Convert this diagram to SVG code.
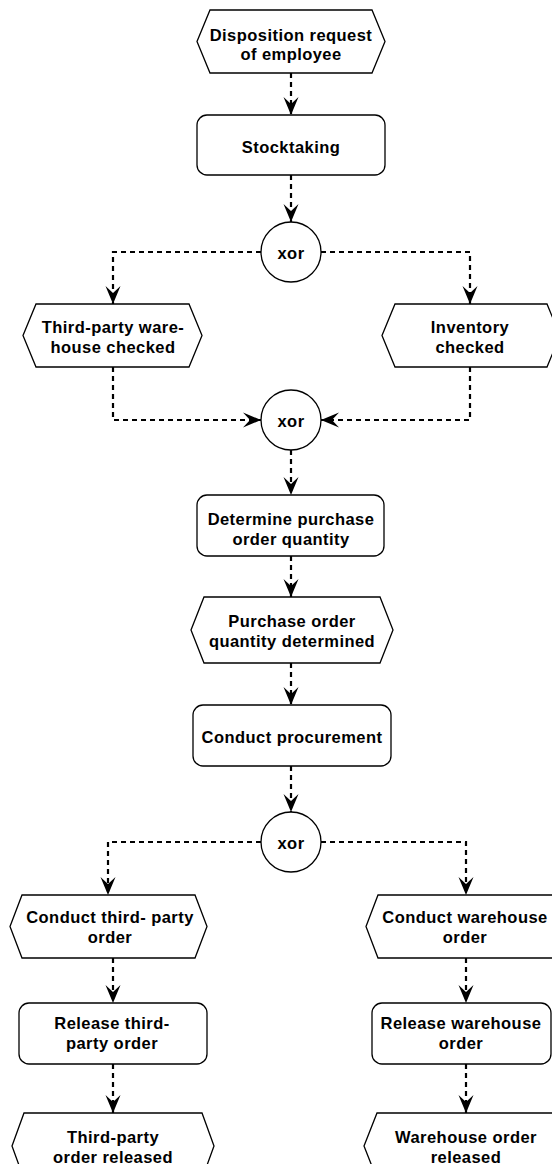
<svg xmlns="http://www.w3.org/2000/svg" width="552" height="1164" viewBox="0 0 552 1164">
<style>
.shape{fill:#fff;stroke:#000;stroke-width:1.3}
.lbl{font-family:"Liberation Sans",Arial,Helvetica,sans-serif;font-weight:bold;font-size:16.5px;letter-spacing:0.45px;text-anchor:middle;fill:#000}
.conn{fill:none;stroke:#000;stroke-width:2.2;stroke-dasharray:5 4;marker-end:url(#arr)}
</style>
<defs>
<marker id="arr" viewBox="0 0 20 16" refX="18" refY="8" markerWidth="20" markerHeight="16" orient="auto" markerUnits="userSpaceOnUse">
<path d="M0,0.5 L18,8 L0,15.5 L7,8 Z" fill="#000"/>
</marker>
</defs>
<rect width="552" height="1164" fill="#fff"/>
<g id="connectors">
<path class="conn" d="M291,73 V115"/>
<path class="conn" d="M291,175 V222"/>
<path class="conn" d="M261,252 H113 V304"/>
<path class="conn" d="M321,252 H470 V304"/>
<path class="conn" d="M113,367 V420 H261"/>
<path class="conn" d="M470,367 V420 H321"/>
<path class="conn" d="M291,450 V495"/>
<path class="conn" d="M291,556 V597"/>
<path class="conn" d="M291,663 V705"/>
<path class="conn" d="M291,766 V812"/>
<path class="conn" d="M261,842 H108 V895"/>
<path class="conn" d="M321,842 H466 V895"/>
<path class="conn" d="M113,958 V1003"/>
<path class="conn" d="M113,1064 V1113"/>
<path class="conn" d="M466,958 V1003"/>
<path class="conn" d="M466,1064 V1113"/>
</g>
<g id="n1">
<polygon class="shape" points="210,10 372,10 385,41.5 372,73 210,73 197,41.5"/>
<text class="lbl" x="291" y="41">Disposition request</text>
<text class="lbl" x="291" y="60">of employee</text>
</g>
<g id="n2">
<rect class="shape" x="197" y="115" width="188" height="60" rx="10"/>
<text class="lbl" x="291" y="153">Stocktaking</text>
</g>
<g id="x1">
<circle class="shape" cx="291" cy="252" r="30"/>
<text class="lbl" x="291" y="259">xor</text>
</g>
<g id="n3">
<polygon class="shape" points="36,304 189,304 202,335.5 189,367 36,367 23,335.5"/>
<text class="lbl" x="113" y="333">Third-party ware-</text>
<text class="lbl" x="113" y="353">house checked</text>
</g>
<g id="n4">
<polygon class="shape" points="395,304 547,304 560,335.5 547,367 395,367 382,335.5"/>
<text class="lbl" x="470" y="333">Inventory</text>
<text class="lbl" x="470" y="353">checked</text>
</g>
<g id="x2">
<circle class="shape" cx="291" cy="420" r="30"/>
<text class="lbl" x="291" y="427">xor</text>
</g>
<g id="n5">
<rect class="shape" x="197" y="495" width="187" height="61" rx="10"/>
<text class="lbl" x="291" y="525">Determine purchase</text>
<text class="lbl" x="291" y="545">order quantity</text>
</g>
<g id="n6">
<polygon class="shape" points="204,597 380,597 393,630 380,663 204,663 191,630"/>
<text class="lbl" x="292" y="627">Purchase order</text>
<text class="lbl" x="292" y="647">quantity determined</text>
</g>
<g id="n7">
<rect class="shape" x="193" y="705" width="198" height="61" rx="10"/>
<text class="lbl" x="292" y="743">Conduct procurement</text>
</g>
<g id="x3">
<circle class="shape" cx="291" cy="842" r="30"/>
<text class="lbl" x="291" y="849">xor</text>
</g>
<g id="n8">
<polygon class="shape" points="22,895 195,895 207,926.5 195,958 22,958 10,926.5"/>
<text class="lbl" x="110" y="923">Conduct third- party</text>
<text class="lbl" x="110" y="943">order</text>
</g>
<g id="n9">
<polygon class="shape" points="378,895 554,895 566,926.5 554,958 378,958 366,926.5"/>
<text class="lbl" x="465" y="923">Conduct warehouse</text>
<text class="lbl" x="465" y="943">order</text>
</g>
<g id="n10">
<rect class="shape" x="19" y="1003" width="188" height="61" rx="10"/>
<text class="lbl" x="112" y="1029">Release third-</text>
<text class="lbl" x="112" y="1049">party order</text>
</g>
<g id="n11">
<rect class="shape" x="372" y="1003" width="179" height="61" rx="10"/>
<text class="lbl" x="461" y="1029">Release warehouse</text>
<text class="lbl" x="461" y="1049">order</text>
</g>
<g id="n12">
<polygon class="shape" points="24,1113 202,1113 214,1146 202,1179 24,1179 12,1146"/>
<text class="lbl" x="113" y="1143">Third-party</text>
<text class="lbl" x="113" y="1163">order released</text>
</g>
<g id="n13">
<polygon class="shape" points="377,1113 555,1113 568,1146 555,1179 377,1179 364,1146"/>
<text class="lbl" x="466" y="1143">Warehouse order</text>
<text class="lbl" x="466" y="1163">released</text>
</g>
</svg>
